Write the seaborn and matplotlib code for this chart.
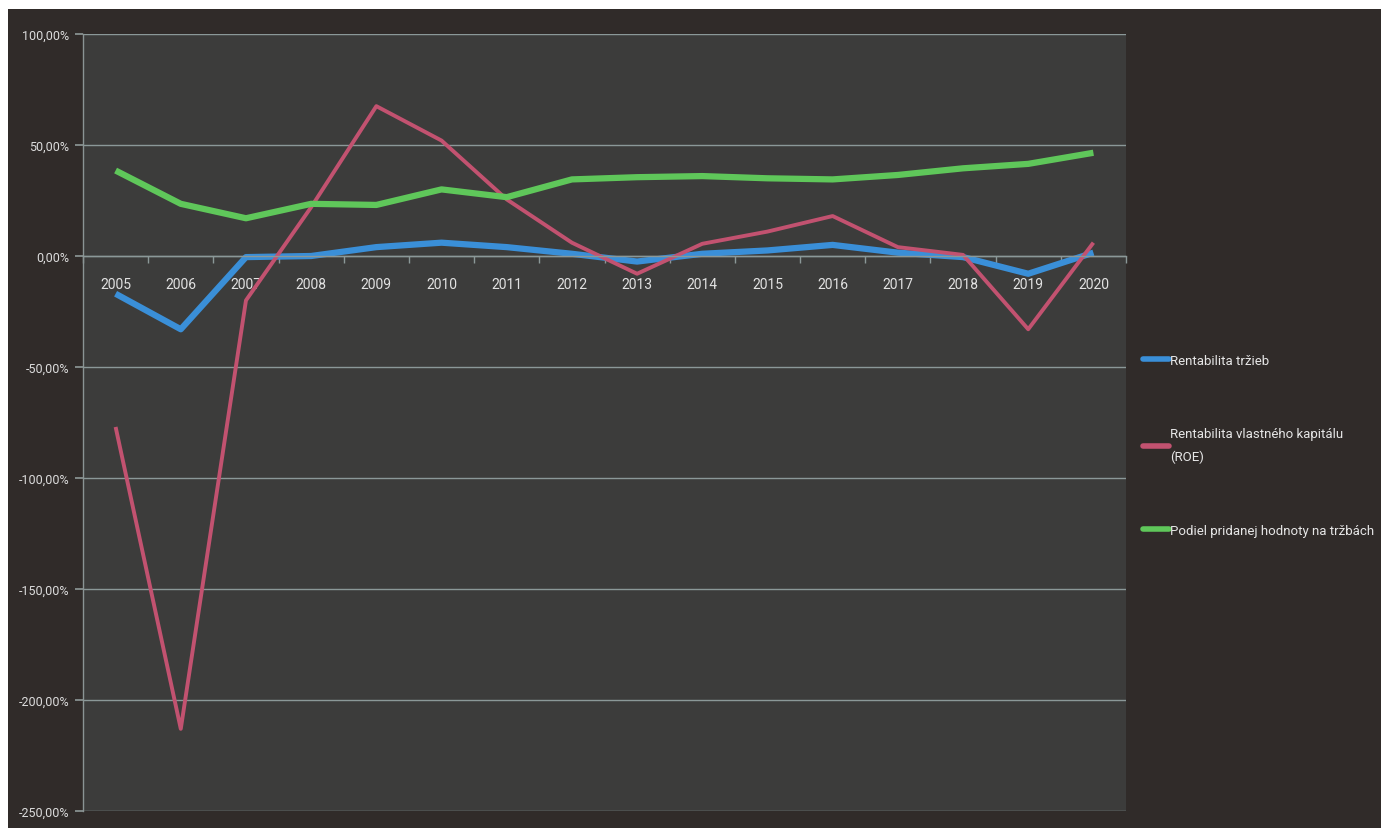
import numpy as np
import pandas as pd
import matplotlib
matplotlib.use('Agg')
import matplotlib.pyplot as plt
from matplotlib.patches import Rectangle
from matplotlib.ticker import FuncFormatter, FixedLocator
import seaborn as sns

years = list(range(2005, 2021))
rentabilita_trzieb = [-17, -33, -0.5, 0, 4, 6, 4, 1, -2.5, 1, 2.5, 5, 1.5, -0.5, -8, 1.5]
roe = [-77, -213, -20, 22, 67.5, 52, 25.5, 6, -8, 5.5, 11, 18, 4, 0.5, -33, 6]
podiel_ph = [38.5, 23.5, 17, 23.5, 23, 30, 26.5, 34.5, 35.5, 36, 35, 34.5, 36.5, 39.5, 41.5, 46.5]

series_names = ['Rentabilita tržieb',
                'Rentabilita vlastného kapitálu\n(ROE)',
                'Podiel pridanej hodnoty na tržbách']
colors = ['#3a8fd8', '#c25270', '#5fc75a']

df = pd.DataFrame({
    'rok': years * 3,
    'hodnota': rentabilita_trzieb + roe + podiel_ph,
    'ukazovatel': [series_names[0]] * 16 + [series_names[1]] * 16 + [series_names[2]] * 16,
})

sns.set_theme(style='dark')
plt.rcParams['font.family'] = ['Roboto', 'DejaVu Sans']
plt.rcParams['axes.unicode_minus'] = False

fig = plt.figure(figsize=(13.81, 8.29), dpi=100)
fig.patch.set_facecolor('white')
# dark chart area (white scan margin top/left)
fig.patches.append(Rectangle((8 / 1381, 0), 1, 1 - 10 / 829, transform=fig.transFigure,
                             facecolor='#302b29', edgecolor='none', zorder=-10))

ax = fig.add_axes([83 / 1381, 1 - 812 / 829, (1126 - 83) / 1381, (812 - 35) / 829])
ax.set_facecolor('#3c3c3b')

sns.lineplot(data=df, x='rok', y='hodnota', hue='ukazovatel', palette=colors,
             ax=ax, legend=False, sort=False)
widths = [4.5, 2.8, 4.5]
for line, w in zip(ax.get_lines(), widths):
    line.set_linewidth(w)
    line.set_solid_capstyle('butt')

ax.set_ylim(-250, 100)
ax.set_xlim(2004.5, 2020.5)
ax.set_yticks(np.arange(-250, 101, 50))
ax.yaxis.set_major_formatter(FuncFormatter(lambda v, p: f'{v:.2f}%'.replace('.', ',')))
ax.set_xticks(years)
ax.xaxis.set_minor_locator(FixedLocator(np.arange(2004.5, 2021, 1)))

ax.grid(axis='y', color='#8b9898', linewidth=1)
ax.grid(axis='x', visible=False)
for s in ['top', 'right']:
    ax.spines[s].set_visible(False)
ax.spines['left'].set_visible(True)
ax.spines['left'].set_color('#8a9494')
ax.spines['left'].set_linewidth(1)
ax.spines['bottom'].set_visible(True)
ax.spines['bottom'].set_position(('data', 0))
ax.spines['bottom'].set_color('#8b9898')
ax.spines['bottom'].set_linewidth(1)

ax.tick_params(axis='y', which='major', left=True, length=6, color='#8a9494',
               labelsize=9, labelcolor='#dcdcdc', pad=4)
ax.tick_params(axis='x', which='major', bottom=False, labelsize=10,
               labelcolor='#e2e2e2', pad=9)
ax.tick_params(axis='x', which='minor', bottom=True, length=5, color='#8b9898', width=1)
ax.set_xlabel('')
ax.set_ylabel('')

handles = [plt.Line2D([], [], color=c, linewidth=w) for c, w in zip(colors, [4, 4, 4])]
leg = fig.legend(handles, series_names, loc='upper left',
                 bbox_to_anchor=(1136 / 1381, 1 - 348 / 829),
                 frameon=False, fontsize=9.5, labelspacing=4.6,
                 handlelength=2.0, handletextpad=0.1, borderpad=0)
for t in leg.get_texts():
    t.set_color('#e6e6e6')
    t.set_linespacing(1.9)

fig.savefig('out.png', dpi=100, facecolor=fig.get_facecolor())
